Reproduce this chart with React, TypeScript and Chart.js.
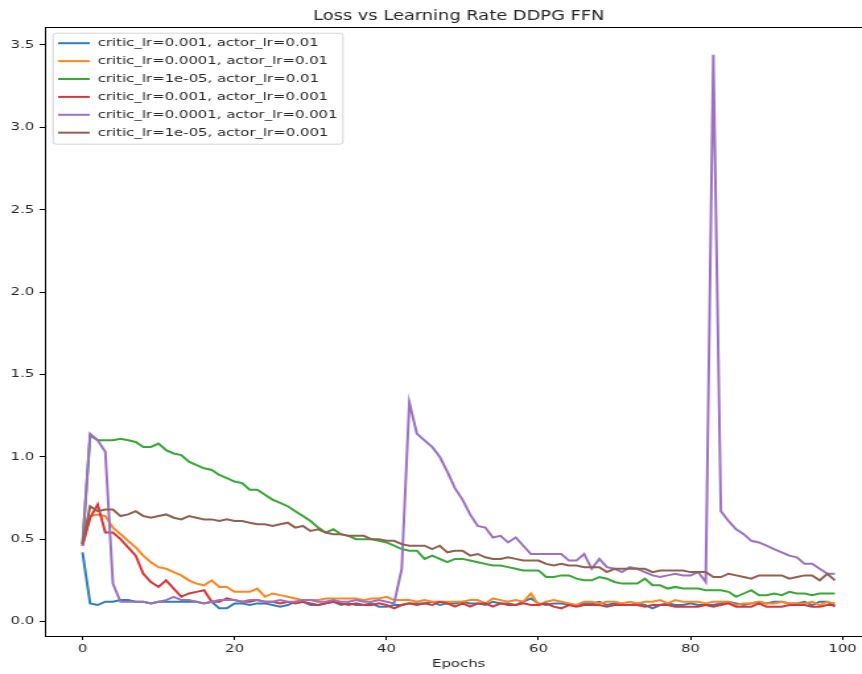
import React, { useEffect, useRef } from "react";
import { Chart, registerables } from "chart.js";

Chart.register(...registerables);

const titleText = "Loss vs Learning Rate DDPG FFN";
const xAxisTitle = "Epochs";

const seriesLabels = [
  "critic_lr=0.001, actor_lr=0.01",
  "critic_lr=0.0001, actor_lr=0.01",
  "critic_lr=1e-05, actor_lr=0.01",
  "critic_lr=0.001, actor_lr=0.001",
  "critic_lr=0.0001, actor_lr=0.001",
  "critic_lr=1e-05, actor_lr=0.001",
];

const seriesColors = ["#2a7fbc", "#ff861c", "#36a936", "#d93637", "#9b71c2", "#93604f"];

const blueLoss = [
  0.42, 0.11, 0.10, 0.12, 0.12, 0.13, 0.13, 0.12, 0.12, 0.11,
  0.12, 0.12, 0.12, 0.12, 0.12, 0.12, 0.11, 0.12, 0.08, 0.08,
  0.11, 0.11, 0.10, 0.11, 0.11, 0.10, 0.09, 0.10, 0.12, 0.12,
  0.10, 0.10, 0.11, 0.12, 0.10, 0.11, 0.10, 0.10, 0.11, 0.09,
  0.09, 0.10, 0.10, 0.11, 0.11, 0.11, 0.12, 0.10, 0.11, 0.11,
  0.12, 0.11, 0.11, 0.10, 0.12, 0.11, 0.11, 0.10, 0.12, 0.14,
  0.11, 0.10, 0.11, 0.11, 0.10, 0.10, 0.11, 0.11, 0.12, 0.10,
  0.11, 0.10, 0.10, 0.11, 0.10, 0.08, 0.10, 0.11, 0.10, 0.10,
  0.11, 0.10, 0.10, 0.10, 0.11, 0.12, 0.11, 0.10, 0.11, 0.12,
  0.11, 0.12, 0.12, 0.11, 0.11, 0.12, 0.10, 0.12, 0.12, 0.09,
];

const orangeLoss = [
  0.47, 0.64, 0.65, 0.64, 0.57, 0.53, 0.49, 0.45, 0.40, 0.36,
  0.33, 0.32, 0.30, 0.28, 0.25, 0.23, 0.22, 0.25, 0.21, 0.21,
  0.18, 0.18, 0.18, 0.20, 0.15, 0.17, 0.16, 0.15, 0.14, 0.13,
  0.13, 0.13, 0.14, 0.14, 0.14, 0.14, 0.14, 0.13, 0.14, 0.14,
  0.15, 0.13, 0.13, 0.13, 0.12, 0.13, 0.12, 0.12, 0.12, 0.12,
  0.12, 0.13, 0.13, 0.11, 0.14, 0.13, 0.12, 0.13, 0.12, 0.17,
  0.10, 0.12, 0.13, 0.12, 0.11, 0.10, 0.12, 0.12, 0.11, 0.12,
  0.12, 0.11, 0.12, 0.11, 0.12, 0.12, 0.13, 0.11, 0.13, 0.12,
  0.12, 0.12, 0.11, 0.12, 0.12, 0.12, 0.10, 0.11, 0.11, 0.12,
  0.11, 0.11, 0.12, 0.11, 0.11, 0.11, 0.12, 0.10, 0.12, 0.11,
];

const greenLoss = [
  0.47, 1.13, 1.10, 1.10, 1.10, 1.11, 1.10, 1.09, 1.06, 1.06,
  1.08, 1.04, 1.02, 1.01, 0.97, 0.95, 0.93, 0.92, 0.89, 0.87,
  0.85, 0.84, 0.80, 0.80, 0.77, 0.74, 0.72, 0.70, 0.67, 0.64,
  0.61, 0.57, 0.54, 0.56, 0.53, 0.52, 0.50, 0.50, 0.50, 0.49,
  0.48, 0.46, 0.44, 0.43, 0.43, 0.38, 0.40, 0.38, 0.36, 0.38,
  0.38, 0.37, 0.36, 0.35, 0.34, 0.34, 0.33, 0.32, 0.31, 0.31,
  0.31, 0.27, 0.27, 0.28, 0.28, 0.26, 0.25, 0.25, 0.27, 0.26,
  0.24, 0.23, 0.23, 0.23, 0.26, 0.22, 0.22, 0.20, 0.21, 0.20,
  0.20, 0.20, 0.19, 0.19, 0.19, 0.18, 0.15, 0.17, 0.19, 0.16,
  0.16, 0.17, 0.16, 0.18, 0.17, 0.17, 0.16, 0.17, 0.17, 0.17,
];

const redLoss = [
  0.46, 0.63, 0.71, 0.54, 0.54, 0.50, 0.45, 0.40, 0.29, 0.24,
  0.21, 0.25, 0.20, 0.15, 0.17, 0.18, 0.19, 0.12, 0.12, 0.14,
  0.13, 0.12, 0.12, 0.13, 0.12, 0.12, 0.11, 0.12, 0.11, 0.12,
  0.11, 0.10, 0.11, 0.12, 0.11, 0.10, 0.11, 0.10, 0.10, 0.11,
  0.10, 0.08, 0.10, 0.11, 0.10, 0.11, 0.10, 0.12, 0.11, 0.09,
  0.11, 0.09, 0.11, 0.11, 0.09, 0.11, 0.10, 0.10, 0.11, 0.10,
  0.10, 0.11, 0.09, 0.08, 0.10, 0.09, 0.10, 0.10, 0.10, 0.09,
  0.10, 0.10, 0.10, 0.10, 0.09, 0.10, 0.10, 0.10, 0.09, 0.09,
  0.09, 0.09, 0.10, 0.09, 0.10, 0.11, 0.09, 0.09, 0.09, 0.11,
  0.09, 0.09, 0.09, 0.10, 0.10, 0.10, 0.09, 0.09, 0.10, 0.10,
];

const purpleLoss = [
  0.46, 1.14, 1.10, 1.03, 0.23, 0.12, 0.12, 0.12, 0.12, 0.11,
  0.12, 0.13, 0.15, 0.13, 0.13, 0.12, 0.11, 0.12, 0.13, 0.13,
  0.13, 0.12, 0.13, 0.13, 0.12, 0.12, 0.13, 0.12, 0.12, 0.13,
  0.13, 0.12, 0.12, 0.13, 0.12, 0.12, 0.13, 0.12, 0.12, 0.13,
  0.12, 0.11, 0.32, 1.33, 1.14, 1.10, 1.06, 1.00, 0.91, 0.81,
  0.74, 0.65, 0.58, 0.57, 0.51, 0.52, 0.48, 0.51, 0.46, 0.41,
  0.41, 0.41, 0.41, 0.41, 0.37, 0.37, 0.41, 0.32, 0.38, 0.33,
  0.32, 0.30, 0.33, 0.32, 0.30, 0.28, 0.27, 0.28, 0.29, 0.28,
  0.28, 0.30, 0.24, 3.44, 0.67, 0.61, 0.56, 0.53, 0.49, 0.48,
  0.46, 0.44, 0.42, 0.40, 0.39, 0.35, 0.35, 0.32, 0.29, 0.29,
];

const brownLoss = [
  0.47, 0.70, 0.67, 0.68, 0.68, 0.64, 0.65, 0.67, 0.64, 0.63,
  0.64, 0.65, 0.63, 0.62, 0.64, 0.63, 0.62, 0.62, 0.61, 0.62,
  0.61, 0.61, 0.60, 0.59, 0.59, 0.58, 0.59, 0.60, 0.57, 0.58,
  0.55, 0.56, 0.54, 0.53, 0.53, 0.52, 0.52, 0.52, 0.50, 0.50,
  0.49, 0.49, 0.47, 0.46, 0.46, 0.46, 0.44, 0.46, 0.42, 0.43,
  0.43, 0.40, 0.41, 0.39, 0.38, 0.38, 0.39, 0.38, 0.37, 0.37,
  0.37, 0.35, 0.34, 0.35, 0.34, 0.34, 0.33, 0.33, 0.33, 0.30,
  0.32, 0.32, 0.32, 0.32, 0.32, 0.30, 0.31, 0.31, 0.31, 0.31,
  0.30, 0.30, 0.30, 0.27, 0.27, 0.29, 0.28, 0.27, 0.26, 0.28,
  0.28, 0.28, 0.28, 0.26, 0.27, 0.28, 0.28, 0.25, 0.29, 0.25,
];

const allSeries = [blueLoss, orangeLoss, greenLoss, redLoss, purpleLoss, brownLoss];

const FONT = "'DejaVu Sans', 'Liberation Sans', sans-serif";
const TEXT_COLOR = "#262626";
const STRETCH = 1.32;
const CANVAS_W = 695;
const CANVAS_H = 674;

const frameAndLegend = {
  id: "frameAndLegend",
  afterDraw(chart: any) {
    const { ctx, chartArea } = chart;
    ctx.save();
    ctx.strokeStyle = "#000";
    ctx.lineWidth = 1;
    ctx.strokeRect(
      Math.round(chartArea.left) + 0.5,
      Math.round(chartArea.top) + 0.5,
      Math.round(chartArea.right - chartArea.left),
      Math.round(chartArea.bottom - chartArea.top)
    );

    const bx = chartArea.left + 6.2;
    const by = chartArea.top + 6;
    const bw = 219.6;
    const bh = 111;
    ctx.beginPath();
    if ((ctx as any).roundRect) {
      (ctx as any).roundRect(bx, by, bw, bh, 2.5);
    } else {
      ctx.rect(bx, by, bw, bh);
    }
    ctx.fillStyle = "rgba(255,255,255,0.8)";
    ctx.fill();
    ctx.strokeStyle = "rgba(204,204,204,0.85)";
    ctx.lineWidth = 1;
    ctx.stroke();

    ctx.font = `11.3px ${FONT}`;
    ctx.textBaseline = "middle";
    ctx.textAlign = "left";
    chart.data.datasets.forEach((ds: any, i: number) => {
      const cy = by + 10 + 17.9 * i;
      ctx.beginPath();
      ctx.strokeStyle = ds.borderColor;
      ctx.lineWidth = 2;
      ctx.moveTo(bx + 3.8, cy);
      ctx.lineTo(bx + 27.8, cy);
      ctx.stroke();
      ctx.fillStyle = TEXT_COLOR;
      ctx.fillText(ds.label, bx + 33.8, cy);
    });
    ctx.restore();
  },
};

export default function App() {
  const canvasRef = useRef<HTMLCanvasElement | null>(null);

  useEffect(() => {
    const canvas = canvasRef.current;
    if (!canvas) return;
    const datasets = allSeries.map((values, i) => ({
      label: seriesLabels[i],
      data: values.map((v, epoch) => ({ x: epoch, y: v })),
      borderColor: seriesColors[i],
      backgroundColor: seriesColors[i],
      borderWidth: 2,
      pointRadius: 0,
      tension: 0,
      fill: false,
      order: allSeries.length - 1 - i,
    }));

    const chart = new Chart(canvas, {
      type: "line",
      data: { datasets },
      options: {
        animation: false,
        responsive: false,
        devicePixelRatio: 1,
        layout: { padding: 0 },
        plugins: {
          legend: { display: false },
          tooltip: { enabled: false },
          title: {
            display: true,
            text: titleText,
            color: TEXT_COLOR,
            font: { family: FONT, size: 13.5, weight: "normal" },
            padding: { top: 8, bottom: 3 },
          },
        },
        scales: {
          x: {
            type: "linear",
            min: -4.95,
            max: 103.95,
            border: { display: true, color: "#000", width: 1 },
            grid: { drawOnChartArea: false, drawTicks: true, tickLength: 4, color: "#000" },
            ticks: {
              stepSize: 20,
              includeBounds: false,
              color: TEXT_COLOR,
              padding: 2,
              maxRotation: 0,
              font: { family: FONT, size: 11.3 },
              callback: (v: any) => String(v),
            },
            title: {
              display: true,
              text: xAxisTitle,
              color: TEXT_COLOR,
              font: { family: FONT, size: 11.3 },
              padding: { top: 0, bottom: 3.3 },
            },
            afterFit: (s: any) => {
              s.height = 38;
            },
          },
          y: {
            type: "linear",
            min: -0.088,
            max: 3.608,
            border: { display: true, color: "#000", width: 1 },
            grid: { drawOnChartArea: false, drawTicks: true, tickLength: 4, color: "#000" },
            ticks: {
              stepSize: 0.5,
              includeBounds: false,
              color: TEXT_COLOR,
              padding: 4,
              font: { family: FONT, size: 11.3 },
              callback: (v: any) => Number(v).toFixed(1),
            },
            afterFit: (s: any) => {
              s.width = 34;
            },
          },
          yR: {
            type: "linear",
            position: "right",
            display: true,
            border: { display: false },
            grid: { display: false },
            ticks: { display: false },
            afterFit: (s: any) => {
              s.width = 34;
            },
          },
        },
      } as any,
      plugins: [frameAndLegend],
    });
    return () => chart.destroy();
  }, []);

  return (
    <div
      style={{
        position: "absolute",
        left: 0,
        top: 0,
        width: 862,
        height: 674,
        overflow: "hidden",
        background: "#fff",
      }}
    >
      <div
        style={{
          width: CANVAS_W,
          height: CANVAS_H,
          transform: `scaleX(${STRETCH})`,
          transformOrigin: "0 0",
        }}
      >
        <canvas
          ref={canvasRef}
          width={CANVAS_W}
          height={CANVAS_H}
          style={{ display: "block", width: CANVAS_W, height: CANVAS_H }}
        />
      </div>
    </div>
  );
}
